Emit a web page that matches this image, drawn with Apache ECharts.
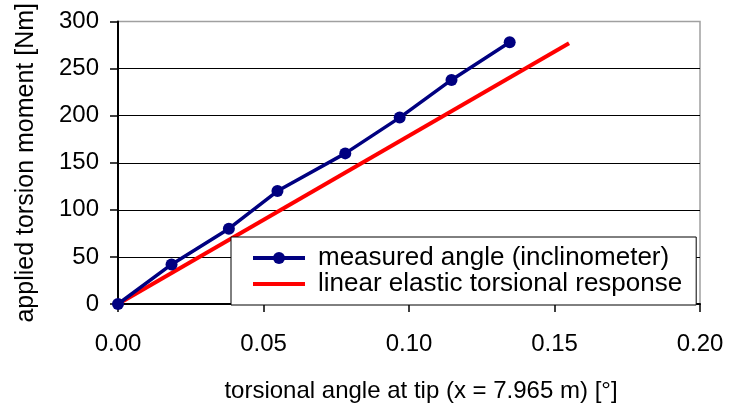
<!DOCTYPE html>
<html>
<head>
<meta charset="utf-8">
<script src="https://cdn.jsdelivr.net/npm/echarts@6/dist/echarts.min.js"></script>
<style>
html,body{margin:0;padding:0;background:#fff;}
#chart{width:732px;height:409px;}
</style>
</head>
<body>
<div id="chart"></div>
<script>
// torsional angle at tip [deg] and applied moment [Nm], measured by inclinometer
var measuredAngle = [0, 0.0184, 0.0381, 0.0548, 0.0781, 0.0968, 0.1146, 0.1346];
var measuredMoment = [0, 42, 80, 120, 160, 198, 238, 278];
// linear elastic torsional response (straight line end points)
var linearAngle = [0, 0.155];
var linearMoment = [0, 277];
var xTicks = [0, 0.05, 0.10, 0.15, 0.20];
var yTicks = [0, 50, 100, 150, 200, 250, 300];
var seriesNames = ['measured angle (inclinometer)', 'linear elastic torsional response'];

var font = 'Liberation Sans, Arial, sans-serif';
function zip(a, b) { return a.map(function (v, i) { return [v, b[i]]; }); }

var chart = echarts.init(document.getElementById('chart'), null, {renderer: 'canvas'});
chart.setOption({
  backgroundColor: '#fff',
  animation: false,
  grid: {
    left: 118, right: 32, top: 19, bottom: 105,
    show: true, borderColor: '#a0a0a0', borderWidth: 1.5, backgroundColor: '#fff'
  },
  xAxis: {
    type: 'value',
    min: xTicks[0], max: xTicks[xTicks.length - 1], interval: 0.05,
    name: 'torsional angle at tip (x = 7.965 m) [°]',
    nameLocation: 'middle', nameGap: 75,
    nameTextStyle: {fontFamily: font, fontSize: 24, color: '#000', padding: [0, 0, 0, 24]},
    axisLine: {show: true, onZero: false, lineStyle: {color: '#000', width: 2}},
    axisTick: {show: true, inside: false, length: 8, lineStyle: {color: '#000', width: 1.5}},
    axisLabel: {fontFamily: font, fontSize: 24, color: '#000', margin: 28,
      formatter: function (v) { return v.toFixed(2); }},
    splitLine: {show: false}
  },
  yAxis: {
    type: 'value',
    min: yTicks[0], max: yTicks[yTicks.length - 1], interval: 50,
    name: 'applied torsion moment [Nm]',
    nameLocation: 'middle', nameGap: 79,
    nameTextStyle: {fontFamily: font, fontSize: 25, color: '#000'},
    axisLine: {show: true, onZero: false, lineStyle: {color: '#000', width: 2}},
    axisTick: {show: true, inside: false, length: 8, lineStyle: {color: '#000', width: 1.5}},
    axisLabel: {fontFamily: font, fontSize: 24, color: '#000', margin: 19},
    splitLine: {show: true, showMinLine: false, showMaxLine: false, lineStyle: {color: '#000', width: 1}}
  },
  legend: {
    show: true,
    orient: 'vertical',
    left: 231, top: 237,
    padding: [8, 14, 8, 20],
    itemGap: 0,
    itemWidth: 52, itemHeight: 15,
    backgroundColor: '#fff',
    borderColor: '#000', borderWidth: 1,
    borderRadius: 0,
    data: [
      {name: seriesNames[0], lineStyle: {width: 4}},
      {name: seriesNames[1], lineStyle: {width: 4}, itemStyle: {color: 'rgba(0,0,0,0)', borderWidth: 0}}
    ],
    textStyle: {fontFamily: font, fontSize: 26, color: '#000', lineHeight: 24, padding: [0, 0, 0, 8]}
  },
  series: [
    {
      name: seriesNames[1],
      type: 'line',
      data: zip(linearAngle, linearMoment),
      symbol: 'none',
      lineStyle: {color: '#ff0000', width: 4},
      itemStyle: {color: '#ff0000'},
      z: 2
    },
    {
      name: seriesNames[0],
      type: 'line',
      data: zip(measuredAngle, measuredMoment),
      symbol: 'circle', symbolSize: 12, showAllSymbol: true,
      lineStyle: {color: '#000080', width: 3.5},
      itemStyle: {color: '#000080'},
      z: 3
    }
  ]
});
</script>
</body>
</html>
